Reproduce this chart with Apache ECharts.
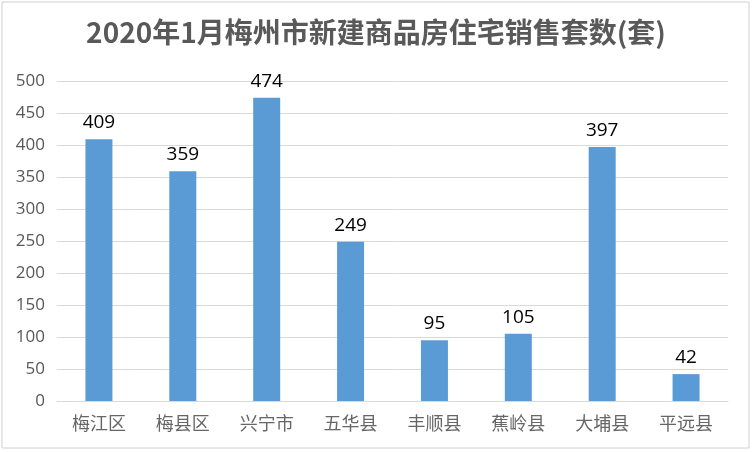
<!DOCTYPE html>
<html><head><meta charset="utf-8">
<script src="https://cdn.jsdelivr.net/npm/echarts@6/dist/echarts.min.js"></script>
<style>html,body{margin:0;padding:0;background:#fff}#c{width:752px;height:452px}</style>
</head><body><div id="c"></div>
<script>
const titleText = '2020年1月梅州市新建商品房住宅销售套数(套)';
const categories = ['梅江区','梅县区','兴宁市','五华县','丰顺县','蕉岭县','大埔县','平远县'];
const values = [409, 359, 474, 249, 95, 105, 397, 42];
const yMin = 0, yMax = 500, yStep = 50;

const chart = echarts.init(document.getElementById('c'));
chart.setOption({
  animation: false,
  backgroundColor: '#fff',
  title: {
    text: titleText, left: 'center', top: 13,
    textStyle: { fontFamily: 'Noto Sans CJK SC', fontWeight: 'bold', fontSize: 28, color: '#595959' }
  },
  graphic: [{ type: 'rect', shape: { x: 2, y: 2, width: 747, height: 446 }, style: { fill: 'none', stroke: '#d0d0d0', lineWidth: 1 } }],
  grid: { left: 57, right: 24, top: 81, bottom: 51, containLabel: false },
  xAxis: {
    type: 'category', data: categories,
    axisLine: { show: true, lineStyle: { color: '#d9d9d9', width: 1 } },
    axisTick: { show: false },
    axisLabel: { fontFamily: 'Noto Sans CJK SC', fontSize: 18, color: '#666666', margin: 13 }
  },
  yAxis: {
    type: 'value', min: yMin, max: yMax, interval: yStep,
    axisLine: { show: false }, axisTick: { show: false },
    splitLine: { lineStyle: { color: '#d9d9d9', width: 1 } },
    axisLabel: { fontFamily: 'Open Sans', fontSize: 17, color: '#595959', margin: 12 }
  },
  series: [{
    type: 'bar', data: values, barWidth: 27,
    itemStyle: { color: '#5B9BD5' },
    label: { show: true, position: 'top', distance: 7, fontFamily: 'Open Sans', fontSize: 19, color: '#000' }
  }]
});
</script></body></html>
